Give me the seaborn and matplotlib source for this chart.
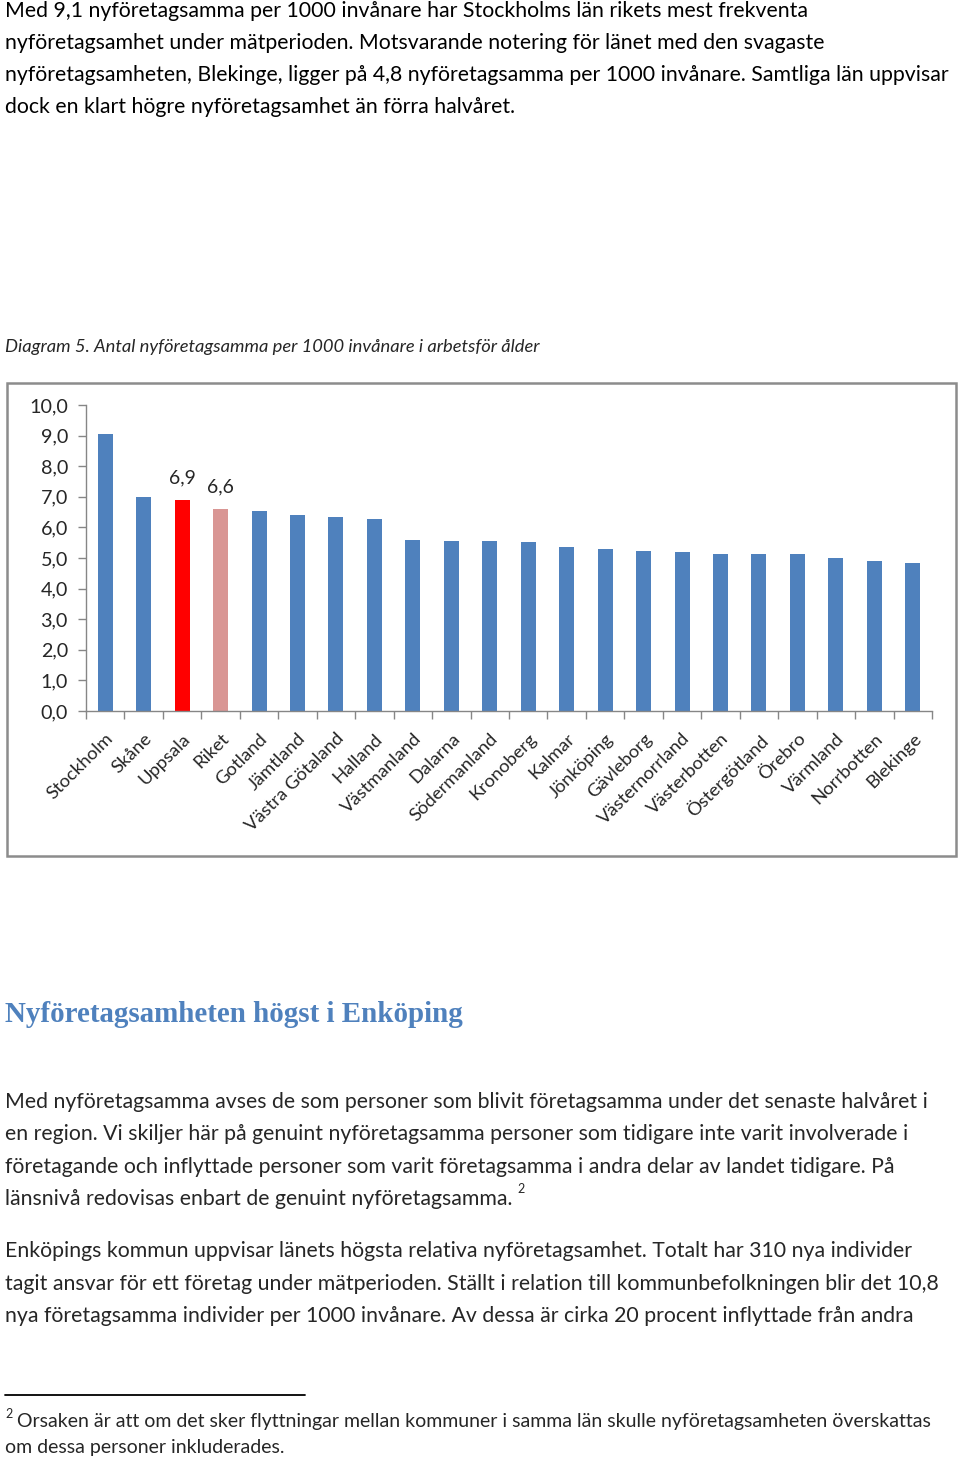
import matplotlib
matplotlib.use("Agg")
import matplotlib.pyplot as plt
import seaborn as sns
import pandas as pd
from matplotlib.patches import Rectangle
from matplotlib.lines import Line2D

# ---------------- data ----------------
regions = ["Stockholm", "Skåne", "Uppsala", "Riket", "Gotland", "Jämtland",
           "Västra Götaland", "Halland", "Västmanland", "Dalarna", "Södermanland",
           "Kronoberg", "Kalmar", "Jönköping", "Gävleborg", "Västernorrland",
           "Västerbotten", "Östergötland", "Örebro", "Värmland", "Norrbotten", "Blekinge"]
values = [9.05, 7.0, 6.9, 6.6, 6.53, 6.41, 6.34, 6.26, 5.60, 5.57, 5.56,
          5.53, 5.35, 5.31, 5.22, 5.20, 5.14, 5.13, 5.12, 4.99, 4.91, 4.83]
labelled = {"Uppsala": "6,9", "Riket": "6,6"}
yticks = [0, 1, 2, 3, 4, 5, 6, 7, 8, 9, 10]
ytick_labels = ["0,0", "1,0", "2,0", "3,0", "4,0", "5,0", "6,0", "7,0", "8,0", "9,0", "10,0"]

para_top = ["Med 9,1 nyföretagsamma per 1000 invånare har Stockholms län rikets mest frekventa",
            "nyföretagsamhet under mätperioden. Motsvarande notering för länet med den svagaste",
            "nyföretagsamheten, Blekinge, ligger på 4,8 nyföretagsamma per 1000 invånare. Samtliga län uppvisar",
            "dock en klart högre nyföretagsamhet än förra halvåret."]
caption = "Diagram 5. Antal nyföretagsamma per 1000 invånare i arbetsför ålder"
heading = "Nyföretagsamheten högst i Enköping"
para2 = ["Med nyföretagsamma avses de som personer som blivit företagsamma under det senaste halvåret i",
         "en region. Vi skiljer här på genuint nyföretagsamma personer som tidigare inte varit involverade i",
         "företagande och inflyttade personer som varit företagsamma i andra delar av landet tidigare. På",
         "länsnivå redovisas enbart de genuint nyföretagsamma."]
para3 = ["Enköpings kommun uppvisar länets högsta relativa nyföretagsamhet. Totalt har 310 nya individer",
         "tagit ansvar för ett företag under mätperioden. Ställt i relation till kommunbefolkningen blir det 10,8",
         "nya företagsamma individer per 1000 invånare. Av dessa är cirka 20 procent inflyttade från andra"]
footnote = ["Orsaken är att om det sker flyttningar mellan kommuner i samma län skulle nyföretagsamheten överskattas",
            "om dessa personer inkluderades."]

# ---------------- style ----------------
sns.set_theme(style="white")
plt.rcParams["font.family"] = ["Lato", "DejaVu Sans"]

W, H = 960, 1461
fig = plt.figure(figsize=(W / 100, H / 100), dpi=100)
fig.patch.set_facecolor("white")

def fy(y):
    return 1 - y / H

def fx(x):
    return x / W

BODY = 15.35
# top paragraph
for i, line in enumerate(para_top):
    fig.text(fx(5), fy(17 + 32 * i), line, fontsize=BODY, va="baseline", ha="left", color="black")

fig.text(fx(5), fy(352), caption, fontsize=13.2, style="italic", va="baseline", ha="left")

# chart frame
fig.patches.append(Rectangle((fx(7), fy(856)), fx(956) - fx(7), fy(383) - fy(856),
                             transform=fig.transFigure, fill=False, edgecolor="#8c8c8c", linewidth=1.8))

# axes
ax_l, ax_r, ax_t, ax_b = 86, 932, 405, 711
ax = fig.add_axes([fx(ax_l), fy(ax_b), fx(ax_r) - fx(ax_l), fy(ax_t) - fy(ax_b)])
colors = ["#4F81BD"] * len(regions)
colors[regions.index("Uppsala")] = "#FF0000"
colors[regions.index("Riket")] = "#D99694"
df = pd.DataFrame({"region": regions, "value": values})
sns.barplot(data=df, x="region", y="value", hue="region", order=regions, hue_order=regions,
            palette=colors, legend=False, width=0.39, saturation=1, ax=ax, edgecolor="none")
ax.set_xlim(-0.5, len(regions) - 0.5)
ax.set_ylim(0, 10)
ax.set_facecolor("white")
for s in ["top", "right"]:
    ax.spines[s].set_visible(False)
for s in ["left", "bottom"]:
    ax.spines[s].set_color("#868686")
    ax.spines[s].set_linewidth(1.0)
ax.set_xlabel("")
ax.set_ylabel("")
ax.set_yticks(yticks)
ax.set_yticklabels(ytick_labels, fontsize=14.2)
ax.tick_params(axis="y", length=6, width=1, color="#868686", pad=7, left=True)
ax.set_xticks([i - 0.5 for i in range(len(regions) + 1)], minor=True)
ax.set_xticks(range(len(regions)))
ax.set_xticklabels(regions, rotation=45, ha="right", rotation_mode="anchor", fontsize=13.3)
ax.tick_params(axis="x", which="major", length=0, pad=14, bottom=True)
ax.tick_params(axis="x", which="minor", length=6, width=1, color="#868686", bottom=True)
for name, txt in labelled.items():
    i = regions.index(name)
    ax.annotate(txt, (i, values[i]), xytext=(0, 10), textcoords="offset points",
                ha="center", va="bottom", fontsize=14)

# heading
fig.text(fx(5), fy(1022), heading, fontsize=20.9, fontweight="bold", family="Liberation Serif",
         color="#4F81BD", va="baseline", ha="left")

for i, line in enumerate(para2):
    fig.text(fx(5), fy(1108 + 32.3 * i), line, fontsize=BODY, va="baseline", ha="left")
fig.text(fx(517), fy(1193), "2", fontsize=9, va="baseline", ha="left")

for i, line in enumerate(para3):
    fig.text(fx(5), fy(1257 + 32.5 * i), line, fontsize=BODY, va="baseline", ha="left")

fig.add_artist(Line2D([fx(5), fx(305)], [fy(1395), fy(1395)], transform=fig.transFigure,
                      color="black", linewidth=1.3))
fig.text(fx(5), fy(1418), "2", fontsize=9, va="baseline", ha="left")
fig.text(fx(17), fy(1427), footnote[0], fontsize=14.0, va="baseline", ha="left")
fig.text(fx(5), fy(1453), footnote[1], fontsize=14.0, va="baseline", ha="left")

fig.savefig("out.png", dpi=100, facecolor="white")
